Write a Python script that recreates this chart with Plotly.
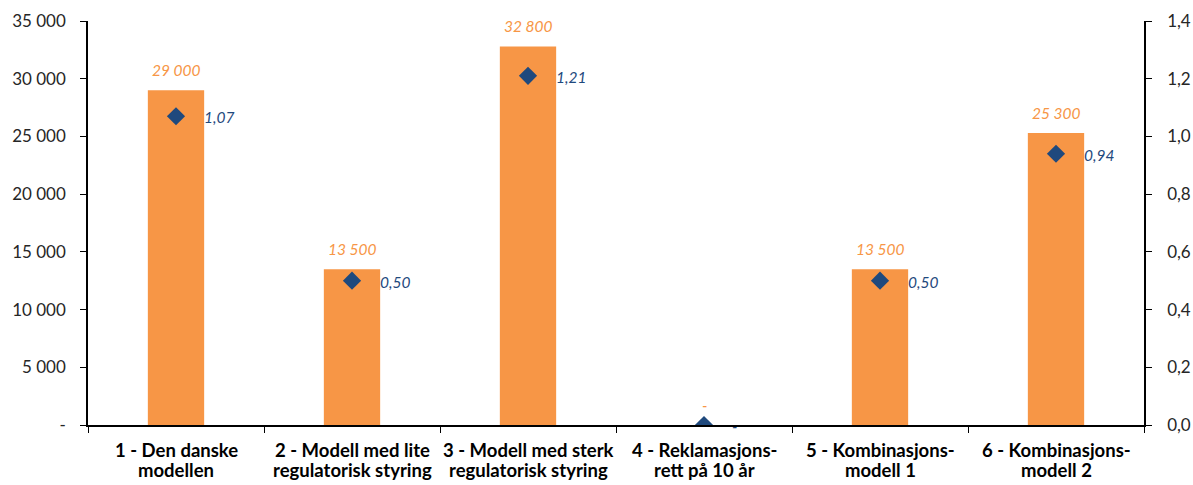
import plotly.graph_objects as go

# Scenario labels (two-line category names)
categories = [
    "1 - Den danske<br>modellen",
    "2 - Modell med lite<br>regulatorisk styring",
    "3 - Modell med sterk<br>regulatorisk styring",
    "4 - Reklamasjons-<br>rett på 10 år",
    "5 - Kombinasjons-<br>modell 1",
    "6 - Kombinasjons-<br>modell 2",
]
bar_values = [29000, 13500, 32800, 0, 13500, 25300]
bar_labels = ["29 000", "13 500", "32 800", "-", "13 500", "25 300"]
ratio_values = [1.07, 0.50, 1.21, 0.0, 0.50, 0.94]
ratio_labels = ["1,07", "0,50", "1,21", "-", "0,50", "0,94"]

left_tickvals = [0, 5000, 10000, 15000, 20000, 25000, 30000, 35000]
left_ticktext = ["-", "5 000", "10 000", "15 000", "20 000", "25 000", "30 000", "35 000"]
right_tickvals = [0, 0.2, 0.4, 0.6, 0.8, 1.0, 1.2, 1.4]
right_ticktext = ["0,0", "0,2", "0,4", "0,6", "0,8", "1,0", "1,2", "1,4"]

ORANGE = "#F79646"
BLUE = "#1F497D"
FONT = "Lato"

fig = go.Figure()
fig.add_trace(go.Bar(
    x=categories, y=bar_values, width=0.32,
    marker=dict(color=ORANGE, line=dict(width=0)),
    yaxis="y", showlegend=False, hoverinfo="skip",
))
fig.add_trace(go.Scatter(
    x=categories, y=ratio_values, mode="markers",
    marker=dict(symbol="diamond", size=14, color=BLUE, line=dict(width=0)),
    yaxis="y2", showlegend=False, hoverinfo="skip",
))

annotations = []
# value labels above the bars
for c, v, t in zip(categories, bar_values, bar_labels):
    annotations.append(dict(
        x=c, y=v, xref="x", yref="y", text=f"<i>{t}</i>", showarrow=False,
        yanchor="middle", xanchor="center", yshift=20,
        font=dict(family=FONT, size=15.5, color=ORANGE),
    ))
# ratio labels to the right of the diamonds
for c, v, t in zip(categories, ratio_values, ratio_labels):
    annotations.append(dict(
        x=c, y=v, xref="x", yref="y2", text=f"<i>{t}</i>", showarrow=False,
        yanchor="middle", xanchor="left", xshift=26, yshift=-1,
        font=dict(family=FONT, size=15.5, color=BLUE),
    ))
# category names, two tightly spaced lines under each slot
for c in categories:
    for i, line in enumerate(c.split("<br>")):
        annotations.append(dict(
            x=c, y=0, xref="x", yref="paper", text=f"<b>{line}</b>",
            showarrow=False, xanchor="center", yanchor="middle",
            yshift=-25 - 19.5 * i,
            font=dict(family=FONT, size=18.5, color="black"),
        ))

fig.update_layout(
    width=1193, height=485,
    margin=dict(l=88, r=49, t=21, b=60, autoexpand=False),
    paper_bgcolor="white", plot_bgcolor="white",
    font=dict(family=FONT, size=17, color="#262626"),
    annotations=annotations,
    xaxis=dict(
        type="category", showline=True, linecolor="black", linewidth=1.5,
        ticks="outside", tickson="boundaries", ticklen=6, tickcolor="black",
        showticklabels=False, automargin=False,
        showgrid=False, zeroline=False,
    ),
    yaxis=dict(
        range=[0, 35000], tickvals=left_tickvals, ticktext=left_ticktext,
        showline=True, linecolor="black", linewidth=1.5,
        ticks="outside", ticklen=6, tickcolor="black",
        showgrid=False, zeroline=False, automargin=False,
        ticklabelstandoff=11,
        tickfont=dict(family=FONT, size=17, color="#262626"),
    ),
    yaxis2=dict(
        range=[0, 1.4], tickvals=right_tickvals, ticktext=right_ticktext,
        overlaying="y", side="right",
        showline=True, linecolor="black", linewidth=1.5,
        ticks="outside", ticklen=6, tickcolor="black",
        showgrid=False, zeroline=False, automargin=False,
        ticklabelstandoff=12,
        tickfont=dict(family=FONT, size=17, color="#262626"),
    ),
)

fig.write_html("out.html")
